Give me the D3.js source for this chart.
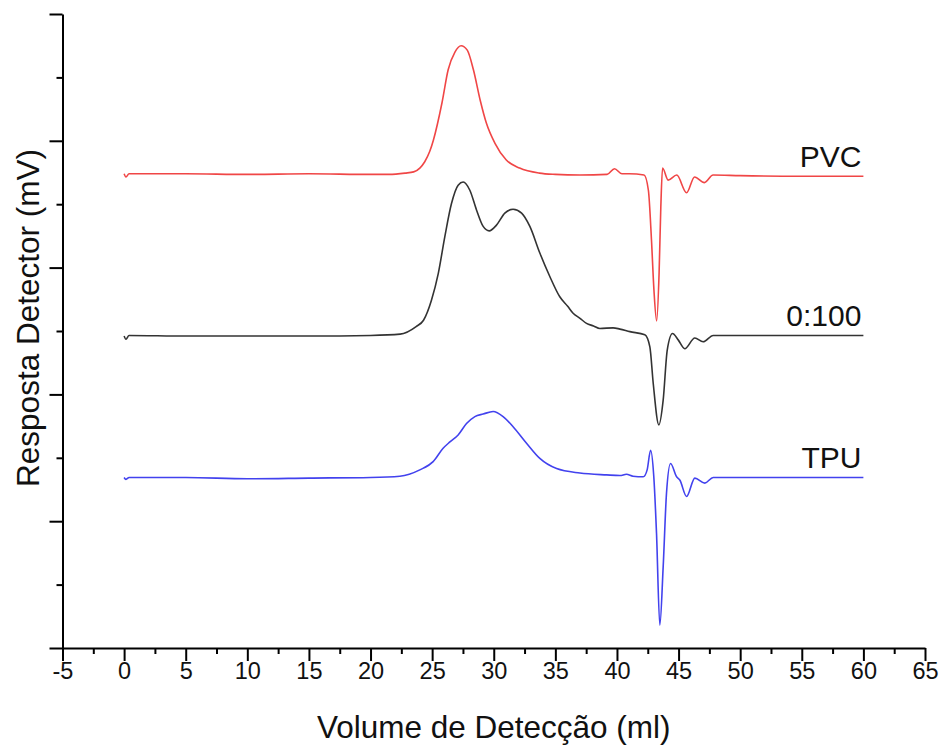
<!DOCTYPE html>
<html lang="pt">
<head>
<meta charset="UTF-8">
<script src="https://d3js.org/d3.v7.min.js"></script>
<style>
  body { margin: 0; background: #fff; }
  svg text { font-family: "Liberation Sans", Arial, sans-serif; fill: #111; }
</style>
</head>
<body>
<div id="chart"></div>
<script>
// elution volume (ml) and detector response (arbitrary, 0-100)
const volPVC = [0, 0.15, 0.4, 5, 10, 15, 20, 21.5, 22.8, 23.5, 24.0, 24.4, 24.8, 25.1, 25.8, 26.3, 26.85, 27.35, 27.85, 28.35, 28.9, 29.4, 30.1, 31.0, 32.1, 33.7, 35, 37, 39.2, 39.8, 40.4, 41, 42.2, 42.55, 42.8, 43.0, 43.22, 43.42, 43.56, 43.7, 44.15, 44.85, 45.65, 46.3, 47.1, 47.8, 50, 55, 60];
const respPVC = [74.8, 74.3, 74.8, 74.8, 74.7, 74.8, 74.7, 74.7, 74.9, 75.1, 75.7, 76.7, 78.3, 80.1, 86.0, 91.2, 94.0, 95.0, 94.3, 91.2, 86.4, 82.8, 79.6, 77.0, 75.7, 74.9, 74.7, 74.6, 74.7, 75.6, 74.8, 74.8, 74.6, 72.2, 64.4, 56.5, 51.6, 59.2, 69.6, 75.7, 73.8, 74.6, 71.8, 74.3, 73.4, 74.6, 74.5, 74.4, 74.4];

const volBlend = [0, 0.15, 0.4, 5, 10, 15, 20, 22.4, 23.7, 24.3, 24.95, 25.5, 26.03, 26.57, 27.11, 27.52, 28.06, 28.6, 29.14, 29.63, 30.22, 30.9, 31.57, 32.26, 32.93, 33.74, 34.55, 35.36, 36.0, 36.44, 37.0, 37.53, 38.1, 38.61, 39.69, 40.24, 41.05, 42.26, 42.67, 42.94, 43.4, 43.75, 44.08, 44.51, 44.97, 45.5, 46.32, 46.99, 47.81, 50, 55, 60];
const respBlend = [49.2, 48.7, 49.3, 49.2, 49.2, 49.2, 49.3, 49.5, 50.7, 51.7, 54.9, 59.1, 64.9, 70.1, 73.0, 73.5, 72.2, 69.1, 66.5, 65.8, 66.7, 68.6, 69.2, 68.6, 66.5, 62.3, 58.6, 55.4, 53.9, 52.8, 52.0, 51.2, 50.8, 50.4, 50.5, 50.3, 49.9, 49.4, 47.5, 41.8, 35.2, 39.1, 47.0, 49.6, 48.6, 47.2, 48.9, 48.3, 49.3, 49.3, 49.3, 49.3];

const volTPU = [0, 0.15, 0.4, 5, 10, 15, 20, 22.38, 24.0, 25.08, 25.89, 26.44, 27.11, 27.79, 28.47, 29.14, 29.95, 30.76, 31.57, 32.66, 33.74, 35.1, 36.99, 39.16, 40.24, 40.77, 41.3, 42.13, 42.45, 42.73, 42.99, 43.21, 43.48, 43.75, 44.02, 44.35, 44.84, 45.1, 45.65, 46.32, 47.13, 47.81, 50, 55, 60];
const respTPU = [26.9, 26.6, 26.9, 26.9, 26.7, 26.8, 26.9, 27.1, 28.1, 29.4, 31.5, 32.5, 33.6, 35.4, 36.5, 36.9, 37.3, 36.5, 34.9, 32.3, 29.9, 28.3, 27.6, 27.3, 27.2, 27.4, 27.1, 27.0, 28.1, 31.2, 27.0, 18.1, 3.6, 12.8, 24.4, 29.1, 27.0, 26.5, 23.9, 26.8, 26.0, 26.9, 26.9, 26.9, 26.9];

const seriesNames = ["PVC", "0:100", "TPU"];
const seriesColors = ["#f04646", "#333333", "#4242ee"];

const xTicks = d3.range(-5, 66, 5);
const xMinorTicks = d3.range(-2.5, 65, 5);
const yTicks = [0, 20, 40, 60, 80, 100];
const yMinorTicks = [10, 30, 50, 70, 90];

const W = 945, H = 747;

const series = [
  { name: seriesNames[0], color: seriesColors[0], pts: volPVC.map((v, i) => [v, respPVC[i]]) },
  { name: seriesNames[1], color: seriesColors[1], pts: volBlend.map((v, i) => [v, respBlend[i]]) },
  { name: seriesNames[2], color: seriesColors[2], pts: volTPU.map((v, i) => [v, respTPU[i]]) }
];

const svg = d3.select("#chart").append("svg")
  .attr("width", W)
  .attr("height", H);

const x = d3.scaleLinear().domain([-5, 65]).range([62.5, 925]);
const y = d3.scaleLinear().domain([0, 100]).range([648, 14]);

// minor ticks first so the main axes sit on top
svg.append("g")
  .attr("transform", "translate(0,648)")
  .call(d3.axisBottom(x).tickValues(xMinorTicks).tickSize(6).tickFormat("").tickSizeOuter(0))
  .call(g => g.select(".domain").remove());
svg.append("g")
  .attr("transform", "translate(62.5,0)")
  .call(d3.axisLeft(y).tickValues(yMinorTicks).tickSize(6).tickFormat("").tickSizeOuter(0))
  .call(g => g.select(".domain").remove());

const xAxis = svg.append("g")
  .attr("transform", "translate(0,648)")
  .call(d3.axisBottom(x).tickValues(xTicks).tickSize(13).tickPadding(1).tickSizeOuter(0)
    .tickFormat(d => String(d)));
xAxis.selectAll("text").attr("font-size", 23.5).attr("fill", "#111");

const yAxis = svg.append("g")
  .attr("transform", "translate(62.5,0)")
  .call(d3.axisLeft(y).tickValues(yTicks).tickSize(13).tickFormat("").tickSizeOuter(0));

svg.selectAll(".domain, .tick line").attr("stroke", "#000").attr("stroke-width", 2);

const line = d3.line()
  .x(d => x(d[0]))
  .y(d => y(d[1]))
  .curve(d3.curveMonotoneX);

svg.selectAll("path.trace")
  .data(series)
  .join("path")
  .attr("class", "trace")
  .attr("fill", "none")
  .attr("stroke", d => d.color)
  .attr("stroke-width", 1.6)
  .attr("d", d => line(d.pts));

svg.selectAll("text.name")
  .data(series)
  .join("text")
  .attr("class", "name")
  .attr("x", d => x(d.pts[d.pts.length - 1][0]) - 2)
  .attr("y", d => y(d.pts[d.pts.length - 1][1]) - 9)
  .attr("text-anchor", "end")
  .attr("font-size", 30)
  .text(d => d.name);

svg.append("text")
  .attr("x", x(30))
  .attr("y", 738)
  .attr("text-anchor", "middle")
  .attr("font-size", 31.5)
  .text("Volume de Detecção (ml)");

svg.append("text")
  .attr("transform", "translate(39," + 318 + ") rotate(-90)")
  .attr("text-anchor", "middle")
  .attr("font-size", 31.5)
  .text("Resposta Detector (mV)");
</script>
</body>
</html>
